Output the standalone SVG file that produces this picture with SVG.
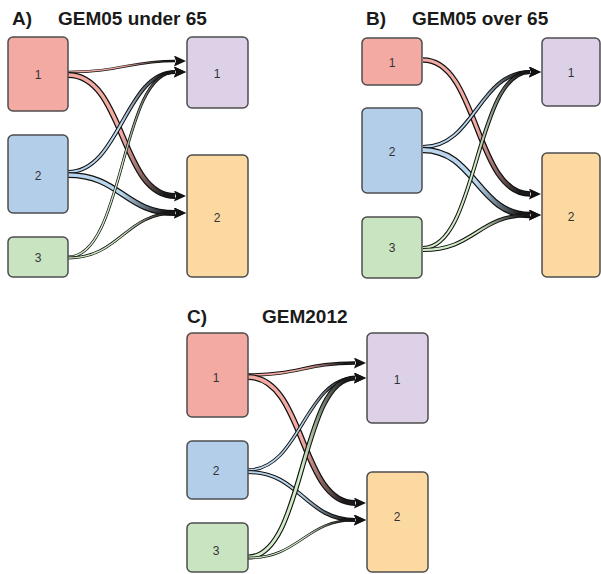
<svg xmlns="http://www.w3.org/2000/svg" width="601" height="574" viewBox="0 0 601 574">
<style>
.title{font-family:"Liberation Sans",Arial,sans-serif;font-weight:bold;font-size:19px;fill:#1a1a1a}
.lbl{font-family:"Liberation Sans",Arial,sans-serif;font-size:12px;fill:#333;text-anchor:middle;dominant-baseline:central}
.box{stroke:#4d4d4d;stroke-width:1.5}
.red{fill:#f2aaa3}.blue{fill:#b3cee9}.green{fill:#c9e4c1}.purple{fill:#ddd1e7}.orange{fill:#fcd9a1}
.o{fill:none;stroke:#111;marker-end:url(#ah)}
.i{fill:none}
.ir{stroke:url(#gR)}.ib{stroke:url(#gB)}.ig{stroke:url(#gG)}
</style>
<defs>
<marker id="ah" markerUnits="userSpaceOnUse" markerWidth="13" markerHeight="11" refX="1" refY="5.5" orient="auto" viewBox="0 0 13 11">
<path d="M0,0 L12,5.5 L0,11 L2,5.5 Z" fill="#111"/>
</marker>
<linearGradient id="gR" x1="0" y1="0" x2="1" y2="0"><stop offset="0" stop-color="#f2aaa3"/><stop offset="0.5" stop-color="#f2aaa3"/><stop offset="0.9" stop-color="#1a1a1a"/></linearGradient>
<linearGradient id="gB" x1="0" y1="0" x2="1" y2="0"><stop offset="0" stop-color="#b9d6ee"/><stop offset="0.5" stop-color="#b9d6ee"/><stop offset="0.9" stop-color="#1a1a1a"/></linearGradient>
<linearGradient id="gG" x1="0" y1="0" x2="1" y2="0"><stop offset="0" stop-color="#d2ecc8"/><stop offset="0.5" stop-color="#d2ecc8"/><stop offset="0.9" stop-color="#1a1a1a"/></linearGradient>
</defs>
<rect width="601" height="574" fill="#fff"/>

<text class="title" x="12" y="25">A)</text>
<text class="title" x="58" y="25">GEM05 under 65</text>
<text class="title" x="366" y="25">B)</text>
<text class="title" x="412" y="25">GEM05 over 65</text>
<text class="title" x="187" y="323">C)</text>
<text class="title" x="262" y="323">GEM2012</text>

<g id="connectors">
<!-- Panel A -->
<path class="o" stroke-width="2.6" d="M68,72 C120,72 130,61 175,61"/>
<path class="i ir" stroke-width="1.2" d="M68,72 C120,72 130,61 175,61"/>
<path class="o" stroke-width="6" d="M68,75 C125,75 120,196 175,196"/>
<path class="i ir" stroke-width="3.5" d="M68,75 C125,75 120,196 175,196"/>
<path class="o" stroke-width="4" d="M68,172 C120,172 125,72 175,72"/>
<path class="i ib" stroke-width="2" d="M68,172 C120,172 125,72 175,72"/>
<path class="o" stroke-width="6" d="M68,175 C120,175 125,213 175,213"/>
<path class="i ib" stroke-width="3.5" d="M68,175 C120,175 125,213 175,213"/>
<path class="o" stroke-width="2.8" d="M68,257 C125,257 120,72 175,72"/>
<path class="i ig" stroke-width="1.3" d="M68,257 C125,257 120,72 175,72"/>
<path class="o" stroke-width="2.8" d="M68,258 C120,258 125,213 175,213"/>
<path class="i ig" stroke-width="1.3" d="M68,258 C120,258 125,213 175,213"/>
<!-- Panel B -->
<path class="o" stroke-width="5.5" d="M423,60 C478,60 475,194 530,194"/>
<path class="i ir" stroke-width="3" d="M423,60 C478,60 475,194 530,194"/>
<path class="o" stroke-width="4" d="M423,147 C475,147 478,72 530,72"/>
<path class="i ib" stroke-width="2" d="M423,147 C475,147 478,72 530,72"/>
<path class="o" stroke-width="6.5" d="M423,150 C475,150 478,215 530,215"/>
<path class="i ib" stroke-width="4" d="M423,150 C475,150 478,215 530,215"/>
<path class="o" stroke-width="4" d="M423,248 C478,248 475,72 530,72"/>
<path class="i ig" stroke-width="2" d="M423,248 C478,248 475,72 530,72"/>
<path class="o" stroke-width="4" d="M423,250 C475,250 478,215 530,215"/>
<path class="i ig" stroke-width="2" d="M423,250 C475,250 478,215 530,215"/>
<!-- Panel C -->
<path class="o" stroke-width="3.5" d="M248,375 C300,375 305,363 355,363"/>
<path class="i ir" stroke-width="1.6" d="M248,375 C300,375 305,363 355,363"/>
<path class="o" stroke-width="6" d="M248,377 C305,377 300,503 355,503"/>
<path class="i ir" stroke-width="3.5" d="M248,377 C305,377 300,503 355,503"/>
<path class="o" stroke-width="3.5" d="M248,470 C300,470 305,378 355,378"/>
<path class="i ib" stroke-width="1.6" d="M248,470 C300,470 305,378 355,378"/>
<path class="o" stroke-width="4" d="M248,472 C300,472 305,520 355,520"/>
<path class="i ib" stroke-width="2" d="M248,472 C300,472 305,520 355,520"/>
<path class="o" stroke-width="5" d="M248,557 C305,557 300,378 355,378"/>
<path class="i ig" stroke-width="2.8" d="M248,557 C305,557 300,378 355,378"/>
<path class="o" stroke-width="2.6" d="M248,558 C300,558 305,520 355,520"/>
<path class="i ig" stroke-width="1.2" d="M248,558 C300,558 305,520 355,520"/>
</g>

<g id="A-src1"><rect class="box red" x="8" y="37" width="60" height="74" rx="5"/><text class="lbl" x="38" y="75">1</text></g>
<g id="A-src2"><rect class="box blue" x="8" y="135" width="60" height="78" rx="5"/><text class="lbl" x="38" y="176">2</text></g>
<g id="A-src3"><rect class="box green" x="8" y="237" width="60" height="40" rx="5"/><text class="lbl" x="38" y="258">3</text></g>
<g id="A-dst1"><rect class="box purple" x="187" y="37" width="61" height="71" rx="5"/><text class="lbl" x="217" y="74">1</text></g>
<g id="A-dst2"><rect class="box orange" x="187" y="155" width="61" height="122" rx="5"/><text class="lbl" x="217" y="218">2</text></g>

<g id="B-src1"><rect class="box red" x="362" y="38" width="60" height="47" rx="5"/><text class="lbl" x="392" y="63">1</text></g>
<g id="B-src2"><rect class="box blue" x="362" y="108" width="60" height="85" rx="5"/><text class="lbl" x="392" y="152">2</text></g>
<g id="B-src3"><rect class="box green" x="362" y="217" width="60" height="61" rx="5"/><text class="lbl" x="392" y="248">3</text></g>
<g id="B-dst1"><rect class="box purple" x="542" y="38" width="58" height="68" rx="5"/><text class="lbl" x="571" y="73">1</text></g>
<g id="B-dst2"><rect class="box orange" x="542" y="153" width="58" height="124" rx="5"/><text class="lbl" x="571" y="217">2</text></g>

<g id="C-src1"><rect class="box red" x="187" y="333" width="61" height="84" rx="5"/><text class="lbl" x="216" y="378">1</text></g>
<g id="C-src2"><rect class="box blue" x="187" y="441" width="61" height="58" rx="5"/><text class="lbl" x="216" y="471">2</text></g>
<g id="C-src3"><rect class="box green" x="187" y="523" width="61" height="49" rx="5"/><text class="lbl" x="216" y="551">3</text></g>
<g id="C-dst1"><rect class="box purple" x="367" y="333" width="61" height="90" rx="5"/><text class="lbl" x="397" y="380">1</text></g>
<g id="C-dst2"><rect class="box orange" x="367" y="472" width="61" height="100" rx="5"/><text class="lbl" x="397" y="517">2</text></g>
</svg>
